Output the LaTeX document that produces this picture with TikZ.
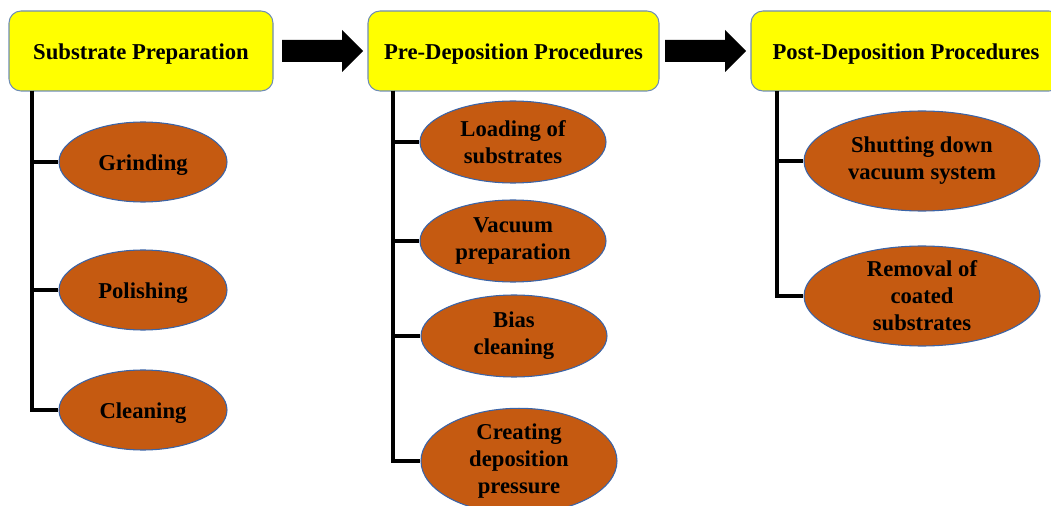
\documentclass[tikz,border=0pt]{standalone}
\usepackage{fontspec}
\setmainfont{Liberation Serif}
\usetikzlibrary{shapes.geometric}
\definecolor{boxyellow}{HTML}{FFFF00}
\definecolor{boxedge}{HTML}{6F8DB5}
\definecolor{ellfill}{HTML}{C55A11}
\definecolor{elledge}{HTML}{3A64A8}
\newcommand{\lowertext}[1]{\raisebox{-2pt}[\height][\depth]{#1}}
\tikzset{
  titlebox/.style={draw=boxedge, line width=0.8pt, fill=boxyellow, rounded corners=9pt,
    minimum height=60pt, inner sep=0pt, font=\bfseries\fontsize{17}{20.25}\selectfont},
  stepell/.style={ellipse, draw=elledge, line width=0.8pt, fill=ellfill, inner sep=0pt,
    align=center, font=\bfseries\fontsize{17}{20.25}\selectfont},
  branch/.style={line width=2.3pt, black},
  blockarrow/.style={fill=black}
}
\begin{document}
\begin{tikzpicture}[x=0.75pt,y=-0.75pt]
\useasboundingbox (0,0) rectangle (1051,506);
\begin{scope}
\clip (0,0) rectangle (1051,506);
% title boxes
\node[titlebox, minimum width=198pt] (b1) at (141,51) {\lowertext{Substrate Preparation}};
\node[titlebox, minimum width=218.25pt] (b2) at (513.5,51) {\lowertext{Pre-Deposition Procedures}};
\node[titlebox, minimum width=232.5pt] (b3) at (906,51) {\lowertext{Post-Deposition Procedures}};

% block arrows
\fill[blockarrow] (282,40) -- (342,40) -- (342,30) -- (363,51) -- (342,72) -- (342,62) -- (282,62) -- cycle;
\fill[blockarrow] (665,40) -- (725,40) -- (725,30) -- (746,51) -- (725,72) -- (725,62) -- (665,62) -- cycle;

% column 1
\node[stepell, minimum width=126pt, minimum height=60pt] (e11) at (143,162) {\lowertext{Grinding}};
\node[stepell, minimum width=126pt, minimum height=60pt] (e12) at (143,290) {\lowertext{Polishing}};
\node[stepell, minimum width=126pt, minimum height=60pt] (e13) at (143,410) {\lowertext{Cleaning}};
\coordinate (t1) at (32,91);
\draw[branch] (t1) |- (e11.west);
\draw[branch] (t1) |- (e12.west);
\draw[branch] (t1) |- (e13.west);

% column 2
\node[stepell, minimum width=139.5pt, minimum height=61.5pt] (e21) at (513,142) {Loading of\\substrates};
\node[stepell, minimum width=139.5pt, minimum height=61.5pt] (e22) at (513,241) {Vacuum\\preparation};
\node[stepell, minimum width=139.5pt, minimum height=61.5pt] (e23) at (514,336) {Bias\\cleaning};
\node[stepell, minimum width=147pt, minimum height=67.5pt] (e24) at (519,461) {Creating\\deposition\\pressure};
\coordinate (t2) at (393,91);
\draw[branch] (t2) |- (e21.west);
\draw[branch] (t2) |- (e22.west);
\draw[branch] (t2) |- (e23.west);
\draw[branch] (t2) |- (e24.west);

% column 3
\node[stepell, minimum width=177pt, minimum height=75pt] (e31) at (922,161) {Shutting down\\vacuum system};
\node[stepell, minimum width=177pt, minimum height=75pt] (e32) at (922,296) {Removal of\\coated\\substrates};
\coordinate (t3) at (777,91);
\draw[branch] (t3) |- (e31.west);
\draw[branch] (t3) |- (e32.west);
\end{scope}
\end{tikzpicture}
\end{document}
